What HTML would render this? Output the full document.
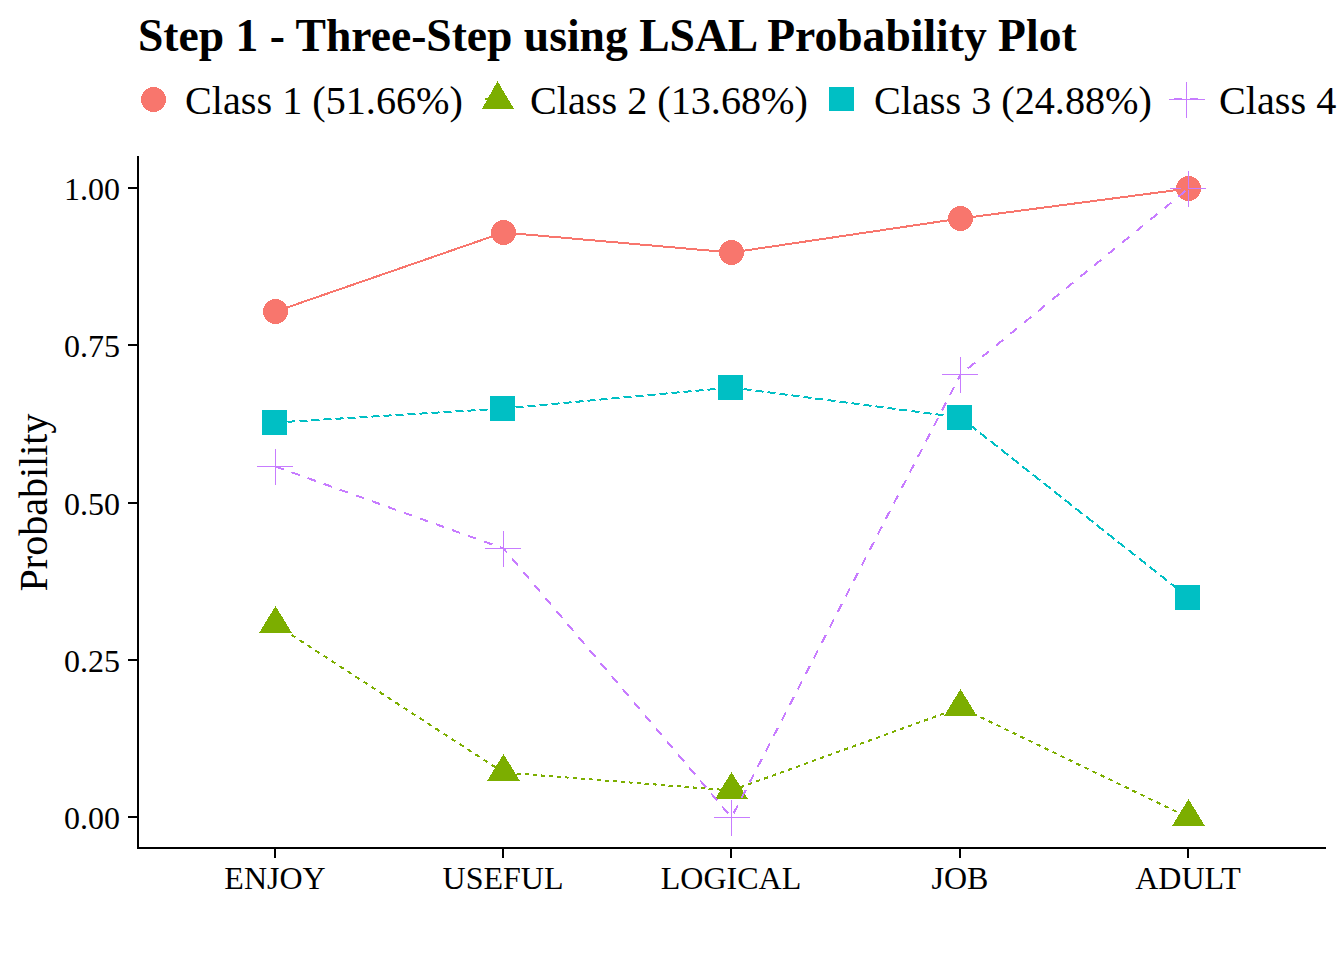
<!DOCTYPE html>
<html><head><meta charset="utf-8"><style>
html,body{margin:0;padding:0;background:#fff;width:1344px;height:960px;overflow:hidden}
svg{display:block}
.c{shape-rendering:crispEdges}
text{font-family:"Liberation Serif",serif;fill:#000}
.title{font-weight:bold;font-size:45.6px}
.lg{font-size:40.2px}
.ax{font-size:32px}
.yt{font-size:40px}
</style></head><body>
<svg width="1344" height="960" viewBox="0 0 1344 960">
<rect width="1344" height="960" fill="#fff"/>
<text x="138" y="51" class="title">Step 1 - Three-Step using LSAL Probability Plot</text>
<g class="c"><polygon points="166.00,99.50 165.95,100.59 165.81,101.67 165.57,102.74 165.25,103.78 164.83,104.78 164.33,105.75 163.74,106.67 163.08,107.53 162.34,108.34 161.53,109.08 160.67,109.74 159.75,110.33 158.78,110.83 157.78,111.25 156.74,111.57 155.67,111.81 154.59,111.95 153.50,112.00 152.41,111.95 151.33,111.81 150.26,111.57 149.22,111.25 148.22,110.83 147.25,110.33 146.33,109.74 145.47,109.08 144.66,108.34 143.92,107.53 143.26,106.67 142.67,105.75 142.17,104.78 141.75,103.78 141.43,102.74 141.19,101.67 141.05,100.59 141.00,99.50 141.05,98.41 141.19,97.33 141.43,96.26 141.75,95.22 142.17,94.22 142.67,93.25 143.26,92.33 143.92,91.47 144.66,90.66 145.47,89.92 146.33,89.26 147.25,88.67 148.22,88.17 149.22,87.75 150.26,87.43 151.33,87.19 152.41,87.05 153.50,87.00 154.59,87.05 155.67,87.19 156.74,87.43 157.78,87.75 158.78,88.17 159.75,88.67 160.67,89.26 161.53,89.92 162.34,90.66 163.08,91.47 163.74,92.33 164.33,93.25 164.83,94.22 165.25,95.22 165.57,96.26 165.81,97.33 165.95,98.41" fill="#F8766D"/><rect x="485" y="98" width="4" height="2" fill="#7CAE00"/><polygon points="497.5,81 514,109 482,109" fill="#7CAE00"/><rect x="829" y="87" width="25" height="24" fill="#00BFC4"/><rect x="1174" y="98" width="8" height="2" fill="#C77CFF"/><rect x="1190" y="98" width="8" height="2" fill="#C77CFF"/><rect x="1186" y="82" width="1" height="36" fill="#C77CFF"/><rect x="1169" y="99" width="36" height="1" fill="#C77CFF"/></g>
<text x="185" y="113.5" class="lg">Class 1 (51.66%)</text>
<text x="530" y="113.5" class="lg">Class 2 (13.68%)</text>
<text x="874" y="113.5" class="lg">Class 3 (24.88%)</text>
<text x="1219" y="113.5" class="lg">Class 4 (10.30%)</text>
<g class="c"><rect x="137" y="156" width="2" height="693" fill="#000"/><rect x="137" y="847" width="1189" height="2" fill="#000"/>
<rect x="128" y="187" width="9" height="2" fill="#000"/>
<rect x="128" y="344" width="9" height="2" fill="#000"/>
<rect x="128" y="502" width="9" height="2" fill="#000"/>
<rect x="128" y="659" width="9" height="2" fill="#000"/>
<rect x="128" y="816" width="9" height="2" fill="#000"/>
<rect x="274" y="849" width="2" height="9" fill="#000"/>
<rect x="502" y="849" width="2" height="9" fill="#000"/>
<rect x="730" y="849" width="2" height="9" fill="#000"/>
<rect x="959" y="849" width="2" height="9" fill="#000"/>
<rect x="1187" y="849" width="2" height="9" fill="#000"/>
</g>
<text x="120" y="829" text-anchor="end" class="ax">0.00</text>
<text x="120" y="672" text-anchor="end" class="ax">0.25</text>
<text x="120" y="515" text-anchor="end" class="ax">0.50</text>
<text x="120" y="357" text-anchor="end" class="ax">0.75</text>
<text x="120" y="200" text-anchor="end" class="ax">1.00</text>
<text x="275" y="889" text-anchor="middle" class="ax">ENJOY</text>
<text x="503" y="889" text-anchor="middle" class="ax">USEFUL</text>
<text x="731" y="889" text-anchor="middle" class="ax">LOGICAL</text>
<text x="960" y="889" text-anchor="middle" class="ax">JOB</text>
<text x="1188" y="889" text-anchor="middle" class="ax">ADULT</text>
<text transform="translate(46.5,502.5) rotate(-90)" text-anchor="middle" class="yt">Probability</text>
<g class="c"><polygon points="288.00,311.50 287.95,312.59 287.81,313.67 287.57,314.74 287.25,315.78 286.83,316.78 286.33,317.75 285.74,318.67 285.08,319.53 284.34,320.34 283.53,321.08 282.67,321.74 281.75,322.33 280.78,322.83 279.78,323.25 278.74,323.57 277.67,323.81 276.59,323.95 275.50,324.00 274.41,323.95 273.33,323.81 272.26,323.57 271.22,323.25 270.22,322.83 269.25,322.33 268.33,321.74 267.47,321.08 266.66,320.34 265.92,319.53 265.26,318.67 264.67,317.75 264.17,316.78 263.75,315.78 263.43,314.74 263.19,313.67 263.05,312.59 263.00,311.50 263.05,310.41 263.19,309.33 263.43,308.26 263.75,307.22 264.17,306.22 264.67,305.25 265.26,304.33 265.92,303.47 266.66,302.66 267.47,301.92 268.33,301.26 269.25,300.67 270.22,300.17 271.22,299.75 272.26,299.43 273.33,299.19 274.41,299.05 275.50,299.00 276.59,299.05 277.67,299.19 278.74,299.43 279.78,299.75 280.78,300.17 281.75,300.67 282.67,301.26 283.53,301.92 284.34,302.66 285.08,303.47 285.74,304.33 286.33,305.25 286.83,306.22 287.25,307.22 287.57,308.26 287.81,309.33 287.95,310.41" fill="#F8766D"/>
<polygon points="516.00,232.50 515.95,233.59 515.81,234.67 515.57,235.74 515.25,236.78 514.83,237.78 514.33,238.75 513.74,239.67 513.08,240.53 512.34,241.34 511.53,242.08 510.67,242.74 509.75,243.33 508.78,243.83 507.78,244.25 506.74,244.57 505.67,244.81 504.59,244.95 503.50,245.00 502.41,244.95 501.33,244.81 500.26,244.57 499.22,244.25 498.22,243.83 497.25,243.33 496.33,242.74 495.47,242.08 494.66,241.34 493.92,240.53 493.26,239.67 492.67,238.75 492.17,237.78 491.75,236.78 491.43,235.74 491.19,234.67 491.05,233.59 491.00,232.50 491.05,231.41 491.19,230.33 491.43,229.26 491.75,228.22 492.17,227.22 492.67,226.25 493.26,225.33 493.92,224.47 494.66,223.66 495.47,222.92 496.33,222.26 497.25,221.67 498.22,221.17 499.22,220.75 500.26,220.43 501.33,220.19 502.41,220.05 503.50,220.00 504.59,220.05 505.67,220.19 506.74,220.43 507.78,220.75 508.78,221.17 509.75,221.67 510.67,222.26 511.53,222.92 512.34,223.66 513.08,224.47 513.74,225.33 514.33,226.25 514.83,227.22 515.25,228.22 515.57,229.26 515.81,230.33 515.95,231.41" fill="#F8766D"/>
<polygon points="744.00,252.50 743.95,253.59 743.81,254.67 743.57,255.74 743.25,256.78 742.83,257.78 742.33,258.75 741.74,259.67 741.08,260.53 740.34,261.34 739.53,262.08 738.67,262.74 737.75,263.33 736.78,263.83 735.78,264.25 734.74,264.57 733.67,264.81 732.59,264.95 731.50,265.00 730.41,264.95 729.33,264.81 728.26,264.57 727.22,264.25 726.22,263.83 725.25,263.33 724.33,262.74 723.47,262.08 722.66,261.34 721.92,260.53 721.26,259.67 720.67,258.75 720.17,257.78 719.75,256.78 719.43,255.74 719.19,254.67 719.05,253.59 719.00,252.50 719.05,251.41 719.19,250.33 719.43,249.26 719.75,248.22 720.17,247.22 720.67,246.25 721.26,245.33 721.92,244.47 722.66,243.66 723.47,242.92 724.33,242.26 725.25,241.67 726.22,241.17 727.22,240.75 728.26,240.43 729.33,240.19 730.41,240.05 731.50,240.00 732.59,240.05 733.67,240.19 734.74,240.43 735.78,240.75 736.78,241.17 737.75,241.67 738.67,242.26 739.53,242.92 740.34,243.66 741.08,244.47 741.74,245.33 742.33,246.25 742.83,247.22 743.25,248.22 743.57,249.26 743.81,250.33 743.95,251.41" fill="#F8766D"/>
<polygon points="973.00,218.50 972.95,219.59 972.81,220.67 972.57,221.74 972.25,222.78 971.83,223.78 971.33,224.75 970.74,225.67 970.08,226.53 969.34,227.34 968.53,228.08 967.67,228.74 966.75,229.33 965.78,229.83 964.78,230.25 963.74,230.57 962.67,230.81 961.59,230.95 960.50,231.00 959.41,230.95 958.33,230.81 957.26,230.57 956.22,230.25 955.22,229.83 954.25,229.33 953.33,228.74 952.47,228.08 951.66,227.34 950.92,226.53 950.26,225.67 949.67,224.75 949.17,223.78 948.75,222.78 948.43,221.74 948.19,220.67 948.05,219.59 948.00,218.50 948.05,217.41 948.19,216.33 948.43,215.26 948.75,214.22 949.17,213.22 949.67,212.25 950.26,211.33 950.92,210.47 951.66,209.66 952.47,208.92 953.33,208.26 954.25,207.67 955.22,207.17 956.22,206.75 957.26,206.43 958.33,206.19 959.41,206.05 960.50,206.00 961.59,206.05 962.67,206.19 963.74,206.43 964.78,206.75 965.78,207.17 966.75,207.67 967.67,208.26 968.53,208.92 969.34,209.66 970.08,210.47 970.74,211.33 971.33,212.25 971.83,213.22 972.25,214.22 972.57,215.26 972.81,216.33 972.95,217.41" fill="#F8766D"/>
<polygon points="1201.00,188.50 1200.95,189.59 1200.81,190.67 1200.57,191.74 1200.25,192.78 1199.83,193.78 1199.33,194.75 1198.74,195.67 1198.08,196.53 1197.34,197.34 1196.53,198.08 1195.67,198.74 1194.75,199.33 1193.78,199.83 1192.78,200.25 1191.74,200.57 1190.67,200.81 1189.59,200.95 1188.50,201.00 1187.41,200.95 1186.33,200.81 1185.26,200.57 1184.22,200.25 1183.22,199.83 1182.25,199.33 1181.33,198.74 1180.47,198.08 1179.66,197.34 1178.92,196.53 1178.26,195.67 1177.67,194.75 1177.17,193.78 1176.75,192.78 1176.43,191.74 1176.19,190.67 1176.05,189.59 1176.00,188.50 1176.05,187.41 1176.19,186.33 1176.43,185.26 1176.75,184.22 1177.17,183.22 1177.67,182.25 1178.26,181.33 1178.92,180.47 1179.66,179.66 1180.47,178.92 1181.33,178.26 1182.25,177.67 1183.22,177.17 1184.22,176.75 1185.26,176.43 1186.33,176.19 1187.41,176.05 1188.50,176.00 1189.59,176.05 1190.67,176.19 1191.74,176.43 1192.78,176.75 1193.78,177.17 1194.75,177.67 1195.67,178.26 1196.53,178.92 1197.34,179.66 1198.08,180.47 1198.74,181.33 1199.33,182.25 1199.83,183.22 1200.25,184.22 1200.57,185.26 1200.81,186.33 1200.95,187.41" fill="#F8766D"/>
<polygon points="275.50,606.00 292.00,633.00 259.00,633.00" fill="#7CAE00"/>
<polygon points="503.50,754.00 520.00,781.00 487.00,781.00" fill="#7CAE00"/>
<polygon points="731.50,772.00 748.00,799.00 715.00,799.00" fill="#7CAE00"/>
<polygon points="960.50,689.00 977.00,716.00 944.00,716.00" fill="#7CAE00"/>
<polygon points="1188.50,799.00 1205.00,826.00 1172.00,826.00" fill="#7CAE00"/>
<rect x="262" y="410" width="25" height="25" fill="#00BFC4"/>
<rect x="490" y="396" width="25" height="25" fill="#00BFC4"/>
<rect x="718" y="375" width="25" height="25" fill="#00BFC4"/>
<rect x="947" y="405" width="25" height="25" fill="#00BFC4"/>
<rect x="1175" y="585" width="25" height="25" fill="#00BFC4"/>
<rect x="275" y="449" width="1" height="36" fill="#C77CFF"/><rect x="257" y="466" width="36" height="1" fill="#C77CFF"/>
<rect x="503" y="531" width="1" height="36" fill="#C77CFF"/><rect x="485" y="548" width="36" height="1" fill="#C77CFF"/>
<rect x="731" y="800" width="1" height="36" fill="#C77CFF"/><rect x="714" y="817" width="36" height="1" fill="#C77CFF"/>
<rect x="960" y="357" width="1" height="36" fill="#C77CFF"/><rect x="942" y="374" width="36" height="1" fill="#C77CFF"/>
<rect x="1188" y="171" width="1" height="36" fill="#C77CFF"/><rect x="1170" y="188" width="36" height="1" fill="#C77CFF"/>
<path d="M275.5 311.5L503.5 232.5" fill="none" stroke="#F8766D" stroke-width="2"/>
<path d="M503.5 232.5L731.5 252.5" fill="none" stroke="#F8766D" stroke-width="2"/>
<path d="M731.5 252.5L960.5 218.5" fill="none" stroke="#F8766D" stroke-width="2"/>
<path d="M960.5 218.5L1188.5 188.5" fill="none" stroke="#F8766D" stroke-width="2"/>
<path d="M275.5 624.5L503.5 772.5" fill="none" stroke="#7CAE00" stroke-width="2" stroke-dasharray="4.769 4.769" stroke-dashoffset="0.000"/>
<path d="M503.5 772.5L731.5 790.5" fill="none" stroke="#7CAE00" stroke-width="2" stroke-dasharray="4.012 4.012" stroke-dashoffset="2.919"/>
<path d="M731.5 790.5L960.5 707.5" fill="none" stroke="#7CAE00" stroke-width="2" stroke-dasharray="4.255 4.255" stroke-dashoffset="7.914"/>
<path d="M960.5 707.5L1188.5 817.5" fill="none" stroke="#7CAE00" stroke-width="2" stroke-dasharray="4.441 4.441" stroke-dashoffset="4.441"/>
<path d="M275.5 422.5L503.5 408.5" fill="none" stroke="#00BFC4" stroke-width="2" stroke-dasharray="8.015 4.008" stroke-dashoffset="0.000"/>
<path d="M503.5 408.5L731.5 387.5" fill="none" stroke="#00BFC4" stroke-width="2" stroke-dasharray="8.034 4.017" stroke-dashoffset="12.041"/>
<path d="M731.5 387.5L960.5 417.5" fill="none" stroke="#00BFC4" stroke-width="2" stroke-dasharray="8.068 4.034" stroke-dashoffset="0.000"/>
<path d="M960.5 417.5L1188.5 597.5" fill="none" stroke="#00BFC4" stroke-width="2" stroke-dasharray="9.000 4.500" stroke-dashoffset="2.124"/>
<path d="M275.5 466.5L503.5 548.5" fill="none" stroke="#C77CFF" stroke-width="2" stroke-dasharray="8.800 8.250" stroke-dashoffset="0.000"/>
<path d="M503.5 548.5L731.5 817.5" fill="none" stroke="#C77CFF" stroke-width="2" stroke-dasharray="9.000 8.100" stroke-dashoffset="3.645"/>
<path d="M731.5 817.5L960.5 374.5" fill="none" stroke="#C77CFF" stroke-width="2" stroke-dasharray="9.000 8.440" stroke-dashoffset="12.867"/>
<path d="M960.5 374.5L1188.5 188.5" fill="none" stroke="#C77CFF" stroke-width="2" stroke-dasharray="9.000 9.100" stroke-dashoffset="8.356"/></g>
</svg>
</body></html>
